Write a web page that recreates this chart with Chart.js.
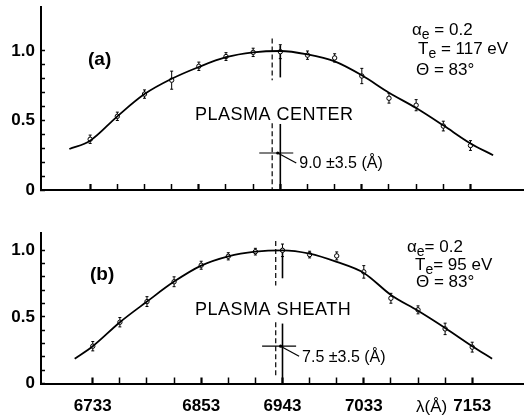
<!DOCTYPE html>
<html>
<head>
<meta charset="utf-8">
<script src="https://cdn.jsdelivr.net/npm/chart.js@4.4.1/dist/chart.umd.min.js"></script>
<style>
  html, body { margin: 0; padding: 0; background: #fff; }
  canvas { display: block; }
</style>
</head>
<body>
<canvas id="chartA" width="528" height="200"></canvas>
<canvas id="chartB" width="528" height="217"></canvas>
<script>
// spectrometer channels (Å)
const wavelengths = [6733, 6763, 6793, 6823, 6853, 6883, 6913, 6943, 6973, 7003, 7033, 7063, 7093, 7123, 7153];

// (a) plasma center
const centerValues = [0.365, 0.53, 0.69, 0.79, 0.89, 0.96, 0.99, 0.995, 0.97, 0.95, 0.82, 0.66, 0.61, 0.46, 0.32];
const centerErrors = [0.03, 0.03, 0.03, 0.065, 0.03, 0.028, 0.03, 0.05, 0.03, 0.03, 0.055, 0.035, 0.04, 0.035, 0.035];
const centerFitX = [6710, 6733, 6763, 6793, 6823, 6853, 6883, 6913, 6943, 6973, 7003, 7033, 7063, 7093, 7123, 7153, 7178];
const centerFitY = [0.295, 0.355, 0.53, 0.69, 0.80, 0.885, 0.955, 0.99, 1.0, 0.975, 0.925, 0.825, 0.70, 0.59, 0.465, 0.335, 0.25];

// (b) plasma sheath
const sheathValues = [0.28, 0.46, 0.615, 0.764, 0.888, 0.955, 0.99, 1.0, 0.968, 0.958, 0.838, 0.64, 0.553, 0.41, 0.273];
const sheathErrors = [0.035, 0.035, 0.037, 0.037, 0.03, 0.027, 0.025, 0.047, 0.025, 0.03, 0.047, 0.037, 0.03, 0.043, 0.037];
const sheathFitX = [6713, 6733, 6763, 6793, 6823, 6853, 6883, 6913, 6943, 6973, 7003, 7033, 7063, 7093, 7123, 7153, 7175];
const sheathFitY = [0.186, 0.28, 0.46, 0.615, 0.765, 0.885, 0.955, 0.99, 1.0, 0.975, 0.913, 0.83, 0.665, 0.546, 0.417, 0.28, 0.186];

const tickWavelengths = [6733, 6763, 6793, 6823, 6853, 6883, 6913, 6943, 6973, 7003, 7033, 7063, 7093, 7123, 7153];
const labeledWavelengths = [6733, 6853, 6943, 7033, 7153];
const yTicks = [0, 0.1, 0.2, 0.3, 0.4, 0.5, 0.6, 0.7, 0.8, 0.9, 1.0];
const yLabelValues = [0, 0.5, 1.0];
const yLabelTexts = ['0', '0.5', '1.0'];

const laserLine = 6943;       // unshifted line
const centerShift = 9.0;      // Å
const sheathShift = 7.5;      // Å

const SANS = "'Liberation Sans', Arial, sans-serif";

function line(ctx, x1, y1, x2, y2) {
  ctx.beginPath();
  ctx.moveTo(x1, y1);
  ctx.lineTo(x2, y2);
  ctx.stroke();
}

// text with a subscript: main, sub, rest
function subText(ctx, x, y, main, sub, rest, size) {
  ctx.font = size + 'px ' + SANS;
  ctx.fillText(main, x, y);
  x += ctx.measureText(main).width;
  ctx.font = Math.round(size * 0.8) + 'px ' + SANS;
  ctx.fillText(sub, x, y + 5);
  x += ctx.measureText(sub).width;
  ctx.font = size + 'px ' + SANS;
  ctx.fillText(rest, x, y);
}

function overlay(cfg) {
  return {
    id: 'overlay',
    beforeDatasetsDraw(chart) {
      const { ctx, scales: { x, y } } = chart;
      ctx.save();
      ctx.strokeStyle = '#000';
      ctx.lineWidth = 1;
      // error bars
      wavelengths.forEach((w, i) => {
        const px = x.getPixelForValue(w);
        const t = y.getPixelForValue(cfg.values[i] + cfg.errors[i]);
        const b = y.getPixelForValue(cfg.values[i] - cfg.errors[i]);
        line(ctx, px, t, px, b);
        line(ctx, px - 1.5, t, px + 1.5, t);
        line(ctx, px - 1.5, b, px + 1.5, b);
      });
      // shifted (dashed) and unshifted (solid) line positions
      const xd = x.getPixelForValue(laserLine - cfg.shift);
      const xs = x.getPixelForValue(laserLine);
      ctx.lineWidth = 1.2;
      ctx.setLineDash([5, 3]);
      cfg.dashed.forEach(s => line(ctx, xd, y.getPixelForValue(s[0]), xd, y.getPixelForValue(s[1])));
      ctx.setLineDash([]);
      ctx.lineWidth = 1.6;
      cfg.solid.forEach(s => line(ctx, xs, y.getPixelForValue(s[0]), xs, y.getPixelForValue(s[1])));
      // the cross marking the measured shift
      const cy = y.getPixelForValue(cfg.crossY);
      const cx = (xd + xs) / 2;
      ctx.lineWidth = 1.2;
      line(ctx, cx - 17, cy, cx + 17, cy);
      ctx.fillStyle = '#000';
      ctx.beginPath();
      ctx.arc(cx + 1.5, cy, 1.6, 0, Math.PI * 2);
      ctx.fill();
      line(ctx, cx + 1.5, cy, cx + 20, cy + 10);
      ctx.restore();
    },
    afterDraw(chart) {
      const { ctx, scales: { x, y } } = chart;
      ctx.save();
      ctx.fillStyle = '#000';
      ctx.textBaseline = 'middle';
      ctx.textAlign = 'left';
      ctx.font = 'bold 19px ' + SANS;
      ctx.fillText(cfg.tag, cfg.tagPos[0], cfg.tagPos[1]);
      ctx.font = '18px ' + SANS;
      ctx.letterSpacing = '0.5px';
      ctx.fillText(cfg.title, 195, cfg.titleY);
      ctx.letterSpacing = '0px';
      const p = cfg.params;
      subText(ctx, p[0][0], p[0][1], 'α', 'e', p[0][2], 17);
      subText(ctx, p[1][0], p[1][1], 'T', 'e', p[1][2], 17);
      ctx.font = '17px ' + SANS;
      ctx.fillText('Θ = 83°', p[2][0], p[2][1]);
      const cx = (x.getPixelForValue(laserLine - cfg.shift) + x.getPixelForValue(laserLine)) / 2;
      const cy = y.getPixelForValue(cfg.crossY);
      ctx.font = '16px ' + SANS;
      ctx.fillText(cfg.shiftLabel, cx + 23, cy + 11);
      if (cfg.axisLabel) {
        ctx.font = '17px ' + SANS;
        ctx.fillText('λ(Å)', 416, 207);
      }
      ctx.restore();
    }
  };
}

function makeChart(id, cfg) {
  return new Chart(document.getElementById(id), {
    type: 'scatter',
    data: {
      datasets: [
        {
          type: 'line',
          data: cfg.fitX.map((v, i) => ({ x: v, y: cfg.fitY[i] })),
          borderColor: '#000',
          borderWidth: 1.8,
          pointRadius: 0,
          cubicInterpolationMode: 'monotone',
          fill: false
        },
        {
          data: wavelengths.map((v, i) => ({ x: v, y: cfg.values[i] })),
          pointRadius: 2.2,
          pointBackgroundColor: '#fff',
          pointBorderColor: '#000',
          pointBorderWidth: 1,
          showLine: false
        }
      ]
    },
    options: {
      responsive: false,
      animation: false,
      events: [],
      layout: { padding: { top: cfg.top, left: 0, right: 0, bottom: 0 } },
      plugins: { legend: { display: false }, tooltip: { enabled: false } },
      scales: {
        x: {
          type: 'linear',
          min: cfg.xMin,
          max: cfg.xMax,
          afterBuildTicks: s => { s.ticks = tickWavelengths.map(v => ({ value: v })); },
          afterFit: s => {
            s.height = cfg.xHeight;
            s.paddingLeft = 0;
            s.paddingRight = 0;
          },
          grid: {
            drawOnChartArea: false,
            tickLength: -6,
            color: '#000',
            tickWidth: c => (c.tick && labeledWavelengths.includes(c.tick.value)) ? 2.2 : 1.5
          },
          border: { color: '#000', width: 2 },
          ticks: {
            display: cfg.showX,
            autoSkip: false,
            maxRotation: 0,
            padding: 19,
            color: '#000',
            font: { family: SANS, size: 17, weight: 'bold' },
            callback: v => labeledWavelengths.includes(v) ? String(v) : ''
          }
        },
        y: {
          min: 0,
          max: cfg.yMax,
          afterBuildTicks: s => { s.ticks = yTicks.map(v => ({ value: v })); },
          afterFit: s => {
            s.width = 41;
            s.paddingTop = 0;
            s.paddingBottom = 0;
          },
          grid: { drawOnChartArea: false, tickLength: -4, color: '#000', tickWidth: 1.5 },
          border: { color: '#000', width: 2 },
          ticks: {
            autoSkip: false,
            padding: 10,
            color: '#000',
            font: { family: SANS, size: 17, weight: 'bold' },
            callback: v => {
              const i = yLabelValues.indexOf(v);
              return i < 0 ? '' : yLabelTexts[i];
            }
          }
        }
      }
    },
    plugins: [overlay(cfg)]
  });
}

makeChart('chartA', {
  values: centerValues, errors: centerErrors, fitX: centerFitX, fitY: centerFitY,
  xMin: 6678.7, xMax: 7211, yMax: 1.32, top: 6.5, xHeight: 10, showX: false,
  shift: centerShift, crossY: 0.266,
  dashed: [[1.09, 0.79], [0.48, 0]], solid: [[1.04, 0.81], [0.475, 0]],
  tag: '(a)', tagPos: [88, 60], title: 'PLASMA CENTER', titleY: 115,
  params: [[412, 30, ' = 0.2'], [418, 49, ' = 117 eV'], [416, 70]],
  shiftLabel: '9.0 ±3.5 (Å)', axisLabel: false
});

makeChart('chartB', {
  values: sheathValues, errors: sheathErrors, fitX: sheathFitX, fitY: sheathFitY,
  xMin: 6675.7, xMax: 7209.2, yMax: 1.13, top: 33, xHeight: 33.5, showX: true,
  shift: sheathShift, crossY: 0.28,
  dashed: [[1.07, 0.735], [0.46, 0.05]], solid: [[1.02, 0.79], [0.45, 0]],
  tag: '(b)', tagPos: [90, 75], title: 'PLASMA SHEATH', titleY: 110,
  params: [[407, 47, '= 0.2'], [415, 65, '= 95 eV'], [416, 82]],
  shiftLabel: '7.5 ±3.5 (Å)', axisLabel: true
});
</script>
</body>
</html>
